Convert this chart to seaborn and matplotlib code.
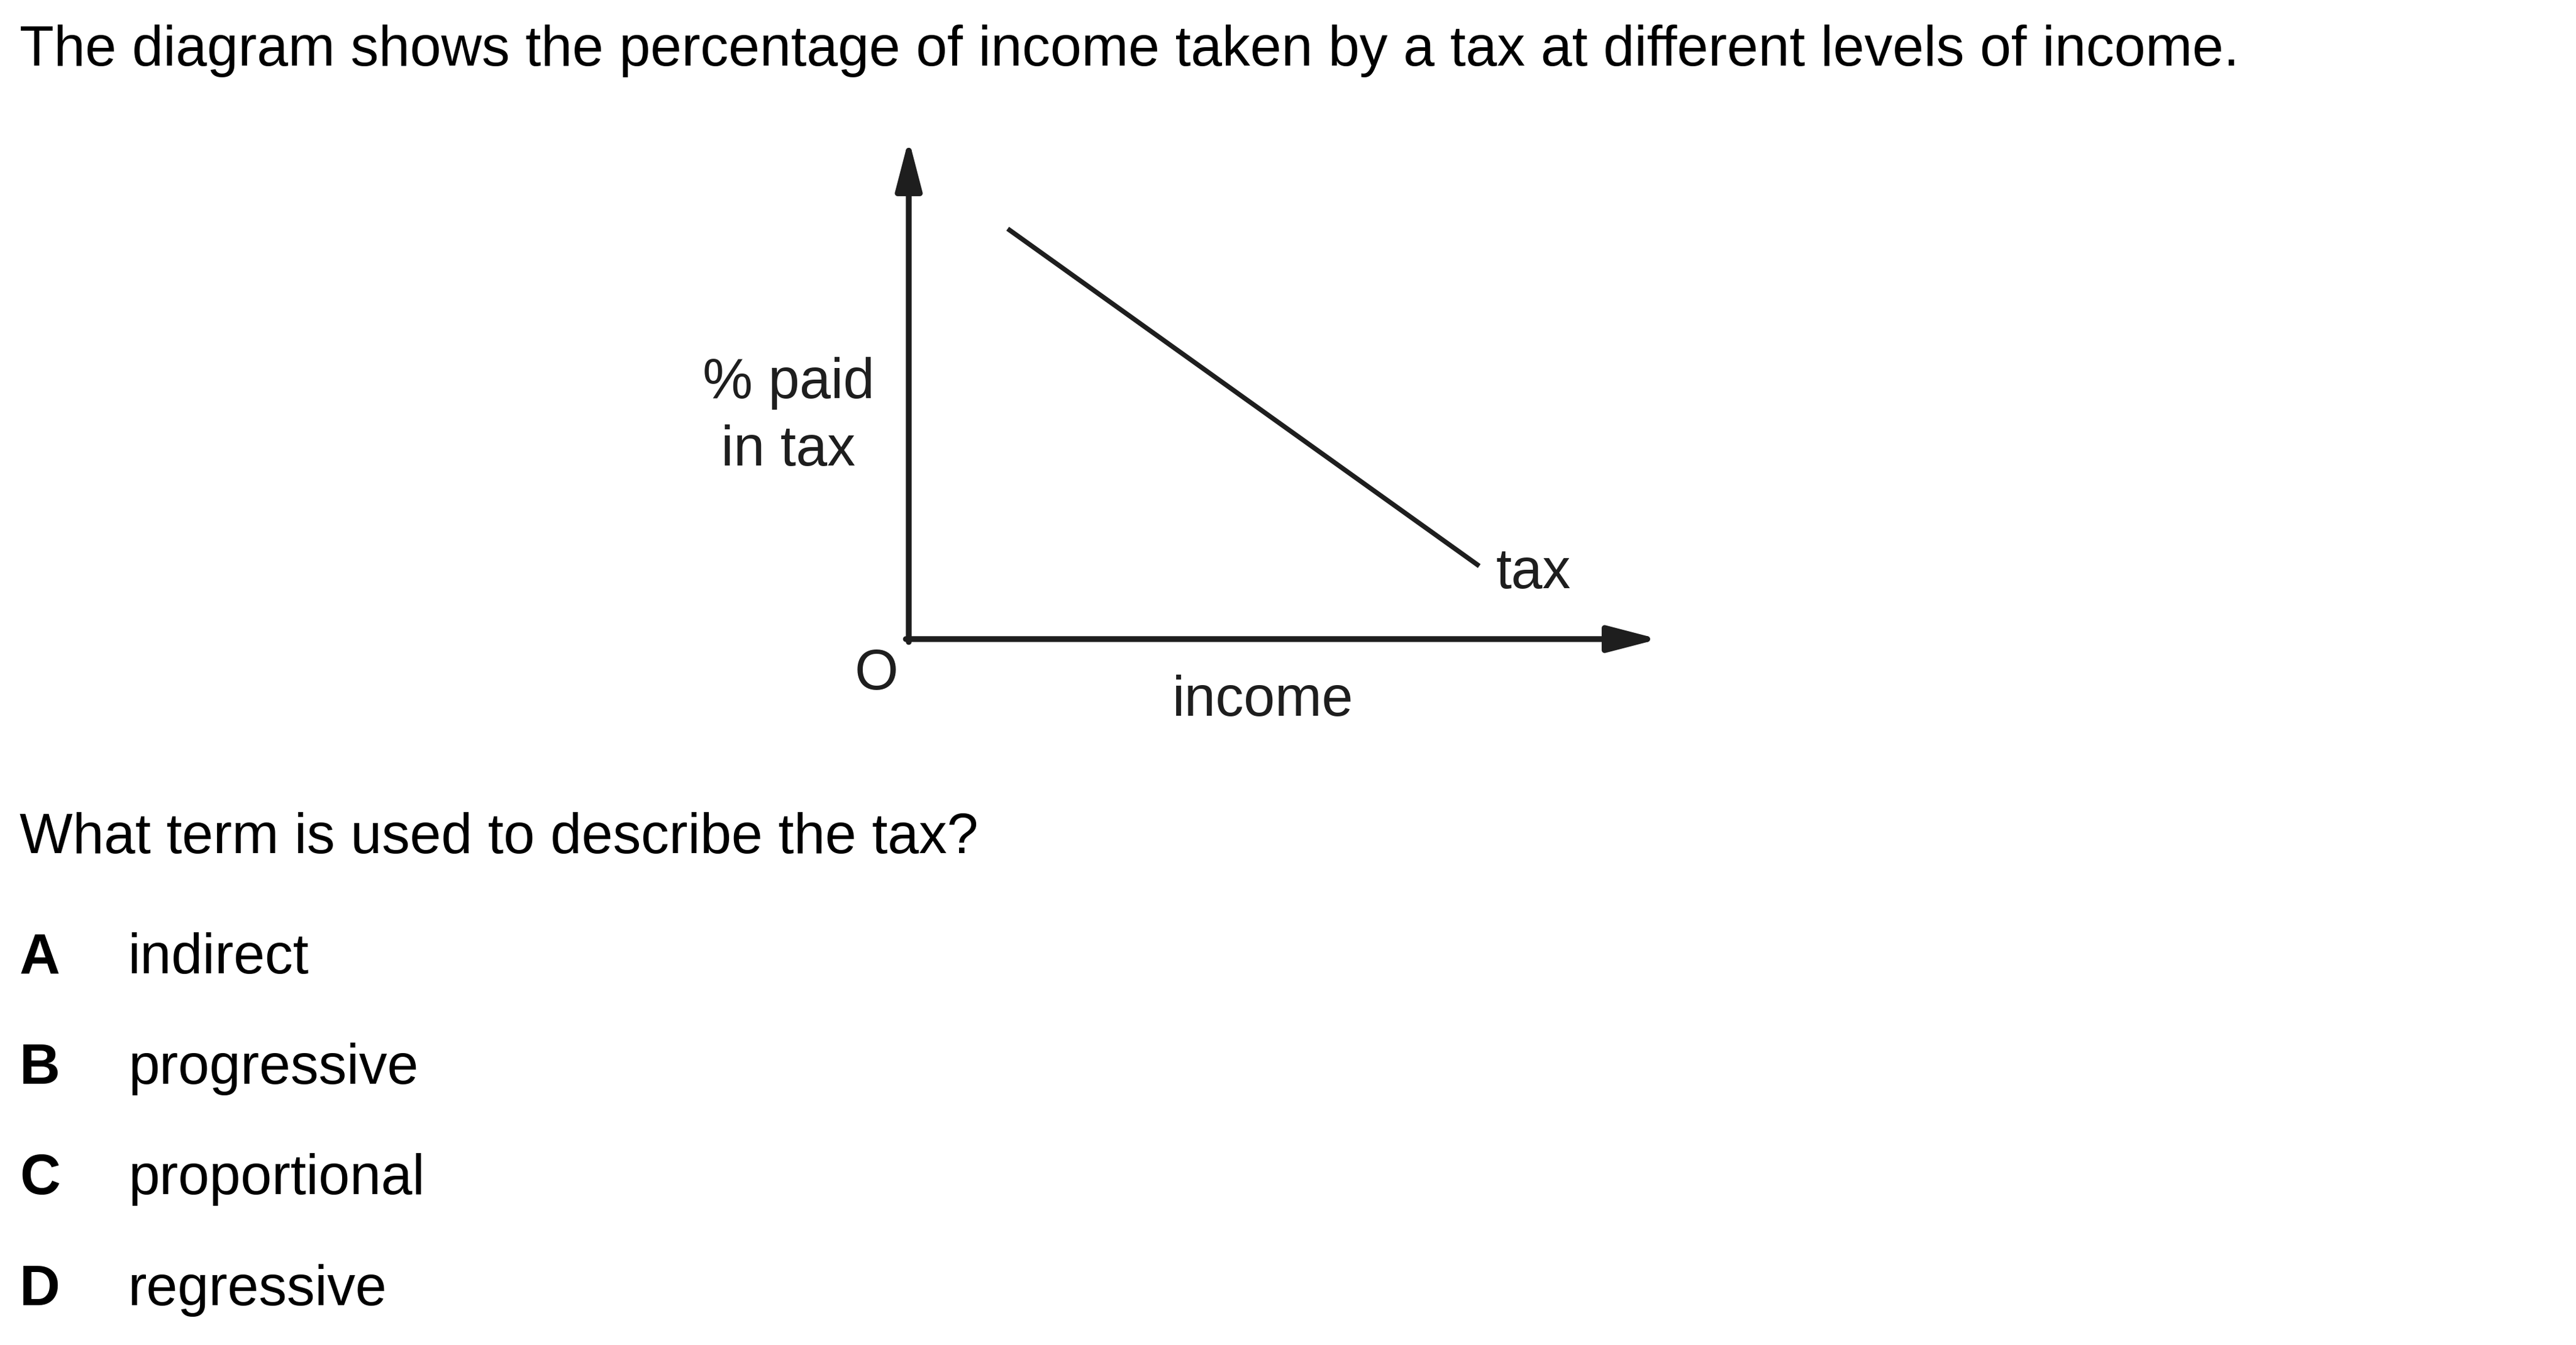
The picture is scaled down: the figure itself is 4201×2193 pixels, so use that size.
import matplotlib
matplotlib.use("Agg")
import matplotlib.pyplot as plt
import seaborn as sns
import pandas as pd

# ---- data ----
income = [13.3, 76.7]
pct_paid = [82.6, 14.7]
title_text = "The diagram shows the percentage of income taken by a tax at different levels of income."
question_text = "What term is used to describe the tax?"
option_letters = ["A", "B", "C", "D"]
option_texts = ["indirect", "progressive", "proportional", "regressive"]
y_label_lines = ["% paid", "in tax"]
x_label = "income"
line_label = "tax"
origin_label = "O"

W, H = 4201, 2193
DPI = 100

sns.set_theme(style="white")
plt.rcParams['font.family'] = ['Liberation Sans', 'DejaVu Sans']

fig = plt.figure(figsize=(W / DPI, H / DPI), dpi=DPI)
fig.patch.set_facecolor("white")

def fx(px):
    return px / W

def fy(py):
    return 1 - py / H

# diagram axes: origin at (1482,1042), x tip 2695, y tip 232
ox, oy, xt, yt = 1482, 1042, 2695, 232
ax = fig.add_axes([fx(ox), fy(oy), (xt - ox) / W, (oy - yt) / H])
ax.set_xlim(0, 100)
ax.set_ylim(0, 100)
ax.set_facecolor("none")
for s in ax.spines.values():
    s.set_visible(False)
ax.set_xticks([])
ax.set_yticks([])

dark = "#1e1e1e"
df = pd.DataFrame({"income": income, "pct": pct_paid})
sns.lineplot(data=df, x="income", y="pct", ax=ax, color=dark, linewidth=5.6,
             legend=False)
for ln in ax.get_lines():
    ln.set_solid_capstyle("butt")
ax.set_xlabel("")
ax.set_ylabel("")

axis_lw = 6.8
half_x = (axis_lw / 72 * DPI / 2) / (xt - ox)
half_y = (axis_lw / 72 * DPI / 2) / (oy - yt)
arrow_style = "-|>,head_length=50,head_width=13"
ax.annotate("", xy=(1 + 10 / (xt - ox), 0), xytext=(-half_x, 0), xycoords="axes fraction",
            textcoords="axes fraction",
            arrowprops=dict(arrowstyle=arrow_style, color=dark, lw=axis_lw,
                            shrinkA=0, shrinkB=0, mutation_scale=1),
            annotation_clip=False)
ax.annotate("", xy=(0, 1 + 5 / (oy - yt)), xytext=(0, -half_y), xycoords="axes fraction",
            textcoords="axes fraction",
            arrowprops=dict(arrowstyle=arrow_style, color=dark, lw=axis_lw,
                            shrinkA=0, shrinkB=0, mutation_scale=1),
            annotation_clip=False)

fs = 66
fig.text(fx(32), fy(107), title_text, fontsize=fs, va="baseline", ha="left", color="black")
fig.text(fx(32), fy(1391), question_text, fontsize=fs, va="baseline", ha="left", color="black")

fig.text(fx(1286), fy(649), y_label_lines[0], fontsize=fs, va="baseline", ha="center", color=dark)
fig.text(fx(1286), fy(759), y_label_lines[1], fontsize=fs, va="baseline", ha="center", color=dark)
fig.text(fx(1429), fy(1124), origin_label, fontsize=fs, va="baseline", ha="center", color=dark)
fig.text(fx(2060), fy(1167), x_label, fontsize=fs, va="baseline", ha="center", color=dark)
fig.text(fx(2440), fy(959), line_label, fontsize=fs, va="baseline", ha="left", color=dark)

baselines = [1587, 1767, 1947, 2128]
for letter, txt, b in zip(option_letters, option_texts, baselines):
    fig.text(fx(32), fy(b), letter, fontsize=fs, fontweight="bold", va="baseline", ha="left", color="black")
    fig.text(fx(209), fy(b), txt, fontsize=fs, va="baseline", ha="left", color="black")

fig.savefig("out.png", dpi=DPI, facecolor="white")
